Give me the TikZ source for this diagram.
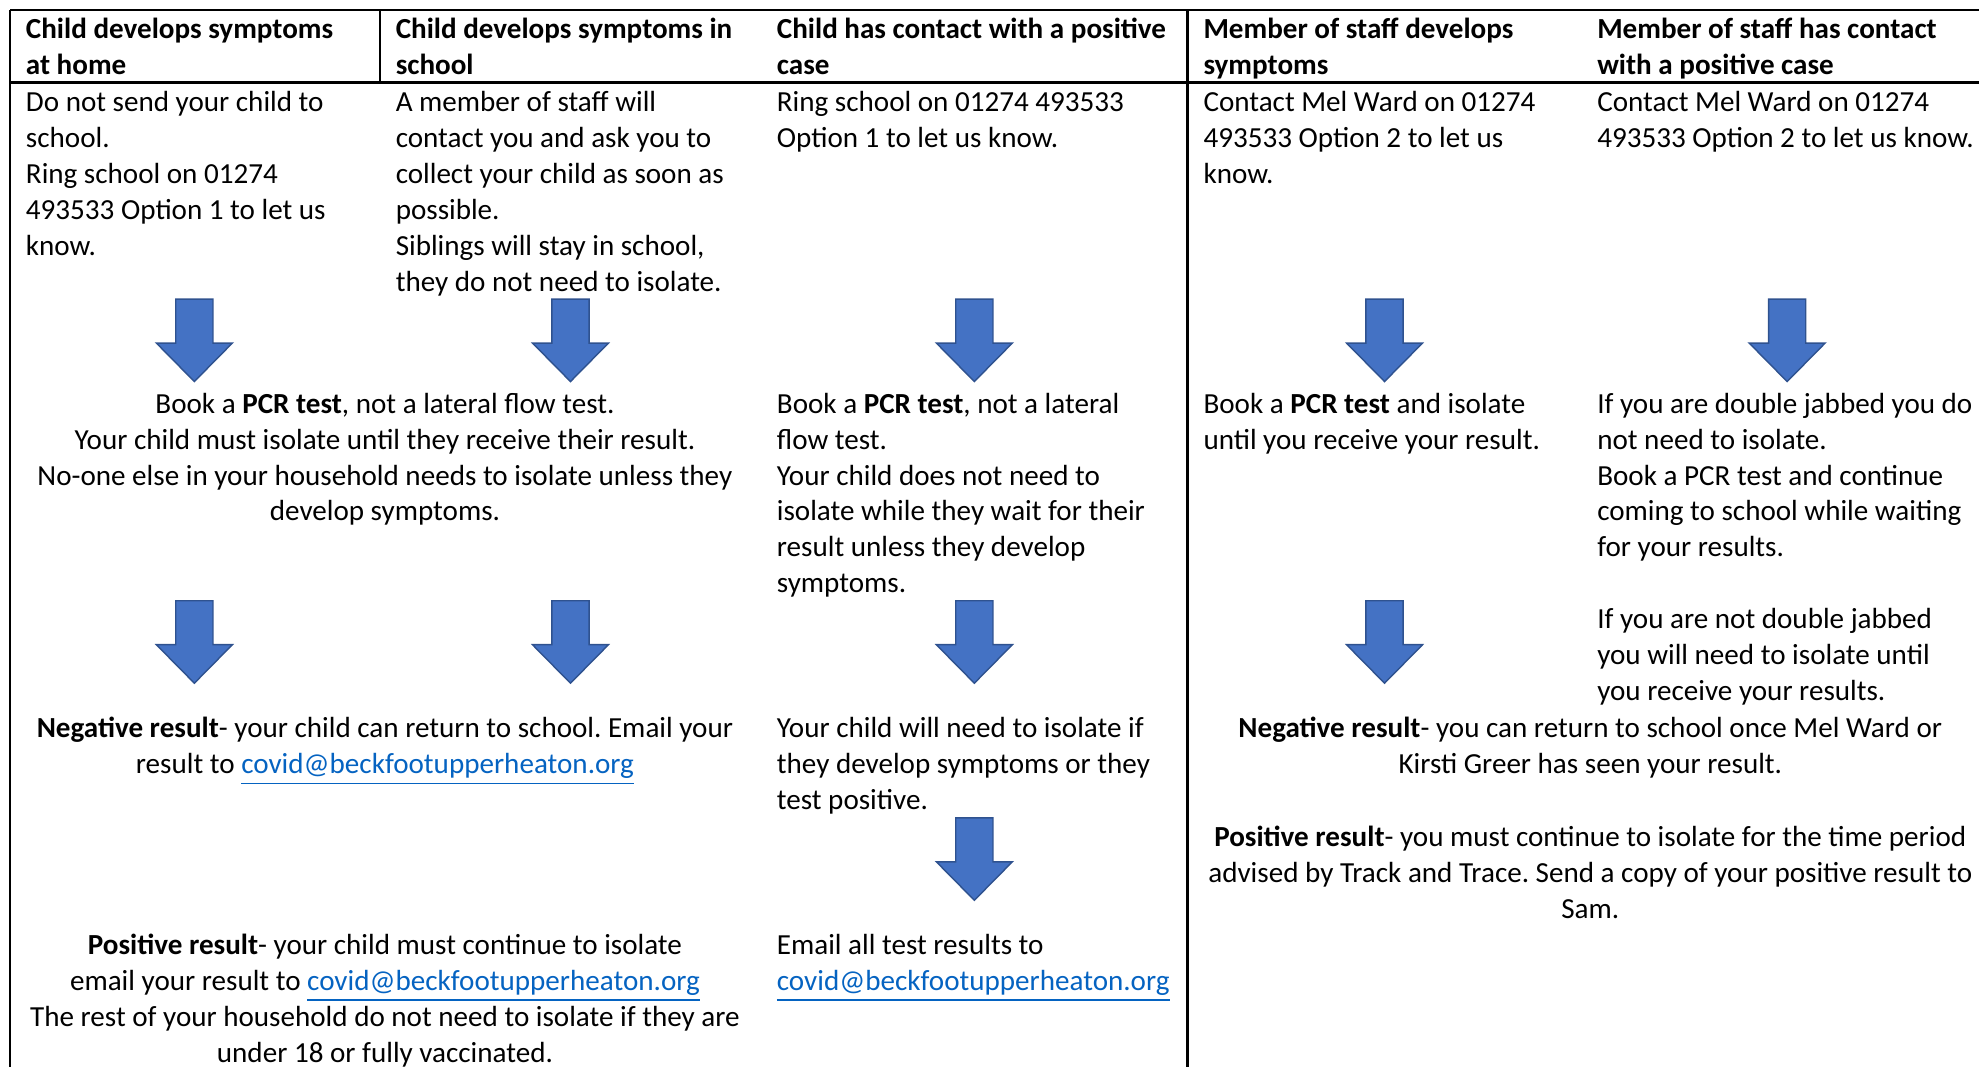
\documentclass[tikz,border=0pt]{standalone}
\usepackage{fontspec}
\setmainfont{Carlito}
\usepackage{xcolor}
\frenchspacing
\definecolor{arrowblue}{HTML}{4472C4}
\definecolor{arrowedge}{HTML}{2F528F}
\definecolor{linkblue}{HTML}{0563C1}
\newcommand{\bodyfont}{\fontsize{8.2}{10.14}\selectfont}
\newcommand{\mail}{\textcolor{linkblue}{\underline{covid@beckfootupperheaton.org}}}
\tikzset{
  cell/.style={anchor=north west,align=left,inner sep=0pt,font=\bodyfont},
  midcell/.style={anchor=north,align=center,inner sep=0pt,font=\bodyfont},
  headcell/.style={cell,font=\bodyfont\bfseries},
  rule/.style={line width=0.7pt},
  downarrow/.pic={\filldraw[fill=arrowblue,draw=arrowedge,line width=0.4pt] (-14.75,0) -- (14.75,0) -- (14.75,34.8) -- (30.1,34.8) -- (0,65.3) -- (-30.1,34.8) -- (-14.75,34.8) -- cycle;}
}
\begin{document}
\begin{tikzpicture}[x=0.0125cm,y=-0.0125cm]
\useasboundingbox (0,0) rectangle (1568,845);
\draw[rule] (8,8) -- (1568,8);
\draw[rule] (8,65.5) -- (1568,65.5);
\draw[rule] (8,8) -- (8,845);
\draw[rule] (301,8) -- (301,65.5);
\draw[rule] (941,8) -- (941,845);
\node[headcell] (hA) at (20,9.6) {\strut Child develops symptoms\\at home};
\node[headcell] (hB) at (313,9.6) {\strut Child develops symptoms in\\school};
\node[headcell] (hC) at (615,9.6) {\strut Child has contact with a positive\\case};
\node[headcell] (hD) at (953,9.6) {\strut Member of staff develops\\symptoms};
\node[headcell] (hE) at (1265,9.6) {\strut Member of staff has contact\\with a positive case};
\node[cell] (a1) at (20,67.7) {\strut Do not send your child to\\school.\\Ring school on 01274\\493533 Option 1 to let us\\know.};
\node[cell] (b1) at (313,67.7) {\strut A member of staff will\\contact you and ask you to\\collect your child as soon as\\possible.\\Siblings will stay in school,\\they do not need to isolate.};
\node[cell] (c1) at (615,67.7) {\strut Ring school on 01274 493533\\Option 1 to let us know.};
\node[cell] (d1) at (953,67.7) {\strut Contact Mel Ward on 01274\\493533 Option 2 to let us\\know.};
\node[cell] (e1) at (1265,67.7) {\strut Contact Mel Ward on 01274\\493533 Option 2 to let us know.};
\pic (arrA1) at (154,237) {downarrow};
\pic (arrB1) at (452,237) {downarrow};
\pic (arrC1) at (772,237) {downarrow};
\pic (arrD1) at (1097,237) {downarrow};
\pic (arrE1) at (1416,237) {downarrow};
\node[midcell] (ab2) at (305,306.7) {\strut Book a \textbf{PCR test}, not a lateral flow test.\\Your child must isolate until they receive their result.\\No-one else in your household needs to isolate unless they\\develop symptoms.};
\node[cell] (c2) at (615,306.7) {\strut Book a \textbf{PCR test}, not a lateral\\flow test.\\Your child does not need to\\isolate while they wait for their\\result unless they develop\\symptoms.};
\node[cell] (d2) at (953,306.7) {\strut Book a \textbf{PCR test} and isolate\\until you receive your result.};
\node[cell] (e2) at (1265,306.7) {\strut If you are double jabbed you do\\not need to isolate.\\Book a PCR test and continue\\coming to school while waiting\\for your results.\\\strut\\If you are not double jabbed\\you will need to isolate until\\you receive your results.};
\pic (arrA2) at (154,476) {downarrow};
\pic (arrB2) at (452,476) {downarrow};
\pic (arrC2) at (772,476) {downarrow};
\pic (arrD2) at (1097,476) {downarrow};
\node[midcell] (ab3) at (305,563.7) {\strut\textbf{Negative result}- your child can return to school. Email your\\result to \mail};
\node[cell] (c3) at (615,563.7) {\strut Your child will need to isolate if\\they develop symptoms or they\\test positive.};
\node[midcell] (de3) at (1260,563.7) {\strut\textbf{Negative result}- you can return to school once Mel Ward or\\Kirsti Greer has seen your result.};
\pic (arrC3) at (772,648) {downarrow};
\node[midcell] (de4) at (1260,650.4) {\strut\textbf{Positive result}- you must continue to isolate for the time period\\advised by Track and Trace. Send a copy of your positive result to\\Sam.};
\node[midcell] (ab4) at (305,735.4) {\strut\textbf{Positive result}- your child must continue to isolate\\email your result to \mail\\The rest of your household do not need to isolate if they are\\under 18 or fully vaccinated.};
\node[cell] (c4) at (615,735.4) {\strut Email all test results to\\\mail};
\end{tikzpicture}
\end{document}
